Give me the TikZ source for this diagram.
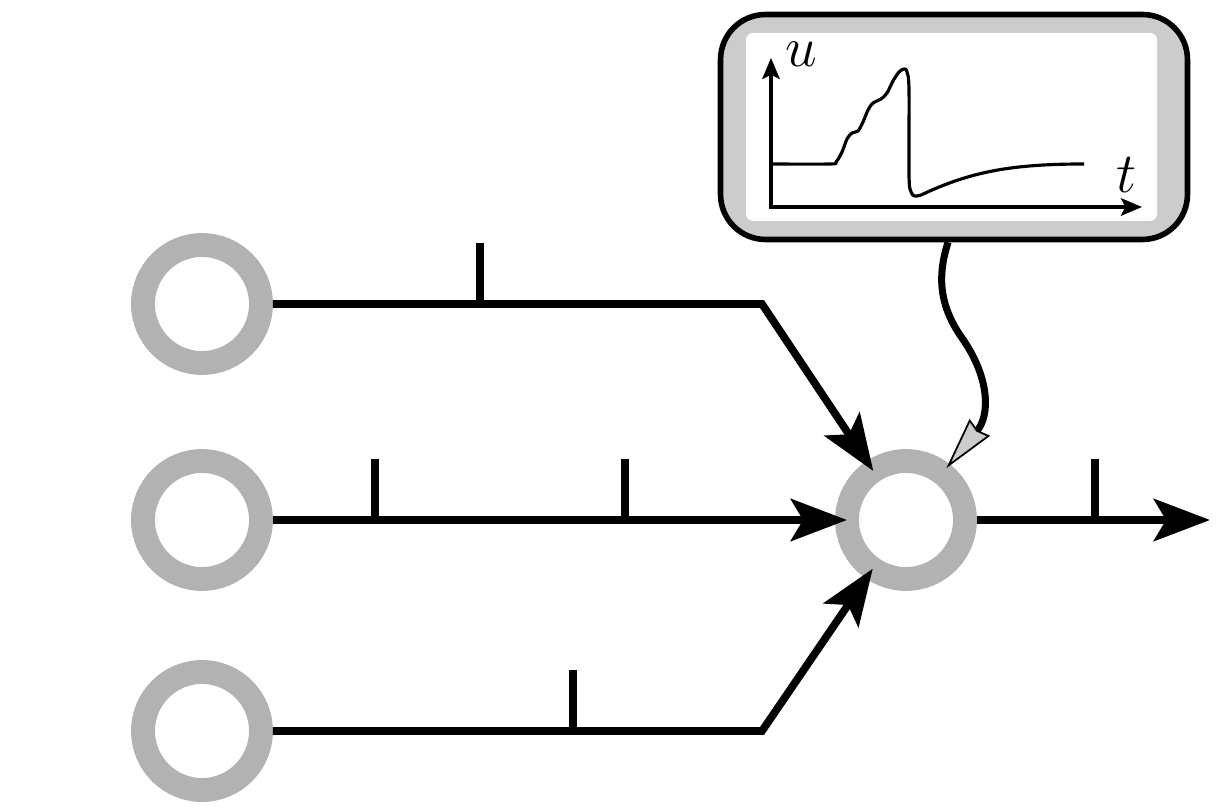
\documentclass[tikz,border=0pt]{standalone}
\usetikzlibrary{arrows.meta}
\begin{document}
\begin{tikzpicture}[x=0.02cm, y=-0.02cm,
    neuron/.style={circle, draw=gray!60, line width=13.6pt, minimum size=2.36cm, inner sep=0pt},
    axon/.style={line width=4.4pt},
    synapse/.style={axon, -{Stealth[length=32pt, width=24pt, inset=7pt]}},
    monitor/.style={draw, line width=3.2pt, fill=gray!40, rounded corners=0.9cm, minimum width=9.34cm, minimum height=4.5cm},
    trace/.style={line width=1.8pt},
    lab/.style={font=\Huge, scale=1.3, inner sep=0pt}]
            \useasboundingbox (0,0) rectangle (1227,810);
            \node[neuron] (in1) at (202,304) {};
            \node[neuron] (in2) at (202,520) {};
            \node[neuron] (in3) at (202,731) {};
            \node[neuron] (out) at (906,520) {};
            \coordinate (b1) at (762,304);
            \coordinate (b3) at (762,731);
            \coordinate (end) at (1210,520);
            \draw[synapse, shorten >=-6.8pt] (in1) -- (b1) -- (out);
            \draw[synapse, shorten >=-6.8pt] (in2) -- (out);
            \draw[synapse, shorten >=-6.8pt] (in3) -- (b3) -- (out);
            \draw[synapse] (out) -- (end);
            \foreach \x/\y in {480/304, 375/520, 625/520, 573/731, 1095/520}
                \draw[axon] (\x,\y) -- ++(0,-61);
            \node[monitor] (monitor) at (954,127) {};
            \fill[white, rounded corners=0.14cm] (746,33) rectangle (1157,221);
            \draw[trace, {Stealth[length=12pt, width=10pt, inset=2.5pt]}-{Stealth[length=12pt, width=10pt, inset=2.5pt]}] (771,58) |- (1142,207);
            \node[lab] (u) at (801,54) {$u$};
            \node[lab] (t) at (1127,175) {$t$};
            \draw[trace, line join=round] plot[smooth, tension=0.55] coordinates {(771,164) (830,164) (836,162) (842,152) (847,139) (852,133) (858,131) (863,122) (868,110) (873,103) (881,99) (887,93) (893,81) (899,72) (904,69) (907,72) (909,90) (909,175) (911,192) (915,196) (921,195)}
                .. controls (970,172) and (1010,164) .. (1084,164);
            \draw[line width=4pt, shorten >=-3pt, -{Stealth[length=30pt, width=15pt, inset=2pt, fill=gray!40, line width=1pt]}] ([xshift=-0.12cm]monitor.south) .. controls (940,268) and (935,300) .. (962,338) .. controls (990,378) and (990,415) .. (out.52);
\end{tikzpicture}
\end{document}
